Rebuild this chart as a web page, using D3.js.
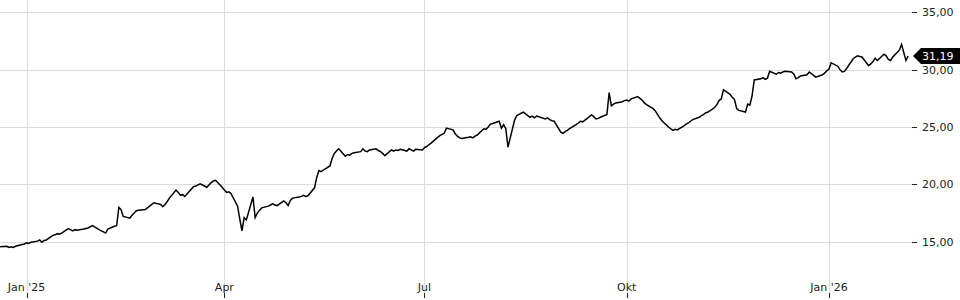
<!DOCTYPE html>
<html>
<head>
<meta charset="utf-8">
<script src="https://cdn.jsdelivr.net/npm/d3@7"></script>
<style>
  html, body { margin: 0; padding: 0; background: #fff; }
  svg { display: block; font-family: "DejaVu Sans", sans-serif; font-size: 11px; }
</style>
</head>
<body>
<svg id="chart" width="960" height="300"></svg>
<script>
// first trading day shown; every following value is the next weekday
const startDate = new Date(2024, 11, 20);

// closing prices, one per weekday (Mon..Fri per line)
const prices = [
  14.55,
  14.6, 14.5, 14.55, 14.5, 14.6,
  14.75, 14.8, 14.9, 14.85, 14.95,
  15.05, 15.15, 14.95, 15.1, 15.15,
  15.55, 15.6, 15.7, 15.65, 15.75,
  16.15, 16.05, 15.95, 16.05, 16.0,
  16.1, 16.15, 16.2, 16.3, 16.4,
  16.05, 15.95, 15.85, 15.75, 16.1,
  16.35, 16.4, 18.0, 17.8, 17.2,
  17.05, 17.3, 17.5, 17.7, 17.75,
  17.8, 17.95, 18.1, 18.25, 18.4,
  18.25, 18.05, 18.25, 18.5, 18.8,
  19.5, 19.3, 19.05, 19.1, 18.95,
  19.6, 19.8, 19.85, 19.95, 20.05,
  19.75, 19.95, 20.15, 20.3, 20.35,
  19.75, 19.5, 19.3, 19.35, 19.2,
  18.1, 17.0, 15.95, 17.1, 16.9,
  18.9, 17.1, 17.5, 17.75, 17.95,
  18.1, 18.2, 18.3, 18.2, 18.15,
  18.55, 18.4, 18.15, 18.6, 18.8,
  18.9, 18.95, 19.05, 18.95, 19.0,
  19.7, 20.6, 21.2, 21.1, 21.25,
  21.6, 22.25, 22.7, 22.9, 23.1,
  22.45, 22.6, 22.55, 22.7, 22.75,
  22.85, 23.1, 22.9, 22.85, 23.0,
  23.1, 22.95, 22.85, 22.7, 22.5,
  23.0, 22.9, 23.0, 22.95, 23.05,
  22.9, 23.1, 23.0, 22.9, 23.05,
  23.0, 23.2, 23.3, 23.45, 23.6,
  24.1, 24.25, 24.35, 24.45, 24.9,
  24.75, 24.4, 24.2, 24.05, 24.0,
  24.1, 24.15, 24.05, 24.2, 24.3,
  24.85, 24.8, 25.0, 25.25, 25.3,
  25.5, 24.9, 25.2, 24.85, 23.25,
  25.6, 26.0, 26.1, 26.2, 26.3,
  25.85, 25.95, 25.8, 25.95, 25.9,
  25.7, 25.8, 25.65, 25.55, 25.5,
  24.55, 24.45, 24.6, 24.7, 24.85,
  25.2, 25.35, 25.5, 25.45, 25.6,
  26.05, 25.9, 25.7, 25.75, 25.85,
  26.1, 28.0, 26.85, 27.0, 27.1,
  27.2, 27.3, 27.35, 27.25, 27.45,
  27.65, 27.5, 27.35, 27.1, 26.95,
  26.6, 26.4, 26.1, 25.8, 25.55,
  25.0, 24.85, 24.7, 24.8, 24.75,
  25.1, 25.25, 25.35, 25.5, 25.65,
  25.85, 26.0, 26.1, 26.25, 26.3,
  26.7, 26.95, 27.3, 27.45, 28.25,
  27.85, 27.6, 27.4, 26.6, 26.45,
  26.3, 27.0, 26.9, 27.7, 29.1,
  29.2, 29.3, 29.15, 29.25, 29.85,
  29.6, 29.75, 29.7, 29.8, 29.85,
  29.8, 29.6, 29.2, 29.3, 29.45,
  29.55, 29.8, 29.65, 29.5, 29.35,
  29.55, 29.7, 29.9, 30.05, 30.6,
  30.3, 30.0, 29.8, 29.85, 30.1,
  30.95, 31.1, 31.2, 31.15, 31.1,
  30.35, 30.5, 30.7, 31.0, 30.8,
  31.35, 31.2, 30.9, 30.8, 31.1,
  31.7, 32.2, 31.5, 30.8, 31.19
];

const lastValue = 31.19;

const yTicks = [15, 20, 25, 30, 35];
const xTicks = [
  { date: new Date(2025, 0, 1), label: "Jan '25" },
  { date: new Date(2025, 3, 1), label: "Apr" },
  { date: new Date(2025, 6, 1), label: "Jul" },
  { date: new Date(2025, 9, 1), label: "Okt" },
  { date: new Date(2026, 0, 1), label: "Jan '26" }
];

// weekday dates for the series
const dates = [];
let d = new Date(startDate);
while (dates.length < prices.length) {
  if (d.getDay() !== 0 && d.getDay() !== 6) dates.push(new Date(d));
  d.setDate(d.getDate() + 1);
}
const data = prices.map((v, i) => ({ date: dates[i], value: v }));

const width = 960, height = 300;
const plotRight = 912;

const x = d3.scaleTime()
  .domain([new Date(2025, 0, 1), new Date(2026, 0, 1)])
  .range([26.5, 829]);

const y = d3.scaleLinear()
  .domain([15, 35])
  .range([241.7, 12.3]);

const svg = d3.select('#chart');
const crisp = v => Math.round(v) + 0.5;

// horizontal grid + y ticks
const yAxis = svg.append('g');
yAxis.selectAll('line.grid')
  .data(yTicks)
  .join('line')
  .attr('class', 'grid')
  .attr('x1', 0)
  .attr('x2', plotRight)
  .attr('y1', t => crisp(y(t)))
  .attr('y2', t => crisp(y(t)))
  .attr('stroke', '#dcdcdc');

yAxis.selectAll('line.tick')
  .data(yTicks)
  .join('line')
  .attr('class', 'tick')
  .attr('x1', plotRight)
  .attr('x2', plotRight + 5)
  .attr('y1', t => crisp(y(t)))
  .attr('y2', t => crisp(y(t)))
  .attr('stroke', '#222');

yAxis.selectAll('text')
  .data(yTicks)
  .join('text')
  .attr('x', 922)
  .attr('y', t => y(t))
  .attr('dy', '0.35em')
  .attr('fill', '#222')
  .text(t => d3.format('.2f')(t).replace('.', ','));

// vertical grid + x ticks
const xAxis = svg.append('g');
xAxis.selectAll('line.grid')
  .data(xTicks)
  .join('line')
  .attr('class', 'grid')
  .attr('x1', t => crisp(x(t.date)))
  .attr('x2', t => crisp(x(t.date)))
  .attr('y1', 0)
  .attr('y2', 293)
  .attr('stroke', '#dcdcdc');

xAxis.selectAll('line.tick')
  .data(xTicks)
  .join('line')
  .attr('class', 'tick')
  .attr('x1', t => crisp(x(t.date)))
  .attr('x2', t => crisp(x(t.date)))
  .attr('y1', 293)
  .attr('y2', 298)
  .attr('stroke', '#222');

xAxis.selectAll('text')
  .data(xTicks)
  .join('text')
  .attr('x', t => x(t.date))
  .attr('y', 291)
  .attr('text-anchor', 'middle')
  .attr('fill', '#222')
  .text(t => t.label);

// price line
const line = d3.line()
  .x(p => x(p.date))
  .y(p => y(p.value));

svg.append('path')
  .datum(data)
  .attr('fill', 'none')
  .attr('stroke', '#000')
  .attr('stroke-width', 1.5)
  .attr('stroke-linejoin', 'miter')
  .attr('d', line);

// last value tag
const yl = y(lastValue);
svg.append('path')
  .attr('d', `M${plotRight + 1},${yl} L${plotRight + 9},${yl - 8} L${width},${yl - 8} L${width},${yl + 8} L${plotRight + 9},${yl + 8} Z`)
  .attr('fill', '#000');

svg.append('text')
  .attr('x', 922)
  .attr('y', yl)
  .attr('dy', '0.35em')
  .attr('fill', '#fff')
  .text(d3.format('.2f')(lastValue).replace('.', ','));
</script>
</body>
</html>
